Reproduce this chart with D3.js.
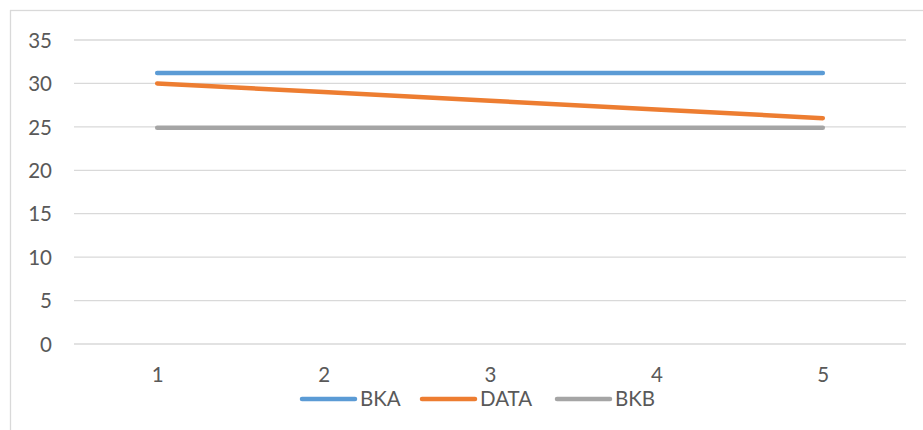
<!DOCTYPE html>
<html><head><meta charset="utf-8">
<script src="https://cdn.jsdelivr.net/npm/d3@7"></script>
<style>body{margin:0;background:#fff}svg{display:block}</style>
</head><body><svg id="c" width="923" height="430"></svg>
<script>
const categories = [1, 2, 3, 4, 5];
const seriesNames = ["BKA", "DATA", "BKB"];
const bka = [31.2, 31.2, 31.2, 31.2, 31.2];
const dataVals = [30, 29, 28, 27, 26];
const bkb = [24.9, 24.9, 24.9, 24.9, 24.9];
const yTicks = [0, 5, 10, 15, 20, 25, 30, 35];
const colors = ["#5B9BD5", "#ED7D31", "#A5A5A5"];

const series = [bka, dataVals, bkb];
const svg = d3.select("#c");
const font = "Lato, 'Open Sans', sans-serif";
const fs = 20.5;

svg.append("rect").attr("x", 10.5).attr("y", 10.5).attr("width", 940).attr("height", 440)
  .attr("fill", "none").attr("stroke", "#d9d9d9").attr("stroke-width", 1.3);

const x = d3.scalePoint().domain(categories).range([74, 906]).padding(0.5);
const y = d3.scaleLinear().domain([0, 35]).range([344, 40]);

const grid = svg.append("g");
grid.selectAll("line").data(yTicks).join("line")
  .attr("x1", 74).attr("x2", 906)
  .attr("y1", d => y(d)).attr("y2", d => y(d))
  .attr("stroke", "#d9d9d9").attr("stroke-width", 1.3);

const yAxis = svg.append("g").attr("transform", "translate(52,0)")
  .call(d3.axisLeft(y).tickValues(yTicks).tickSize(0).tickPadding(0));
yAxis.select(".domain").remove();
yAxis.selectAll("text").attr("font-family", font).attr("font-size", fs).attr("fill", "#595959").attr("dy", "0.35em");

const xAxis = svg.append("g").attr("transform", "translate(0,344)")
  .call(d3.axisBottom(x).tickSize(0).tickPadding(31));
xAxis.select(".domain").remove();
xAxis.selectAll("text").attr("font-family", font).attr("font-size", fs).attr("fill", "#595959").attr("dy", "0.35em");

const line = d3.line().x((d, i) => x(categories[i])).y(d => y(d));
series.forEach((s, k) => {
  svg.append("path").datum(s).attr("d", line).attr("fill", "none")
    .attr("stroke", colors[k]).attr("stroke-width", 4.5)
    .attr("stroke-linecap", "round").attr("stroke-linejoin", "round");
});

const legX = [300, 420, 555];
const leg = svg.append("g");
seriesNames.forEach((n, k) => {
  leg.append("line").attr("x1", legX[k] + 2).attr("x2", legX[k] + 55)
    .attr("y1", 399).attr("y2", 399).attr("stroke", colors[k]).attr("stroke-width", 4.5)
    .attr("stroke-linecap", "round");
  leg.append("text").attr("x", legX[k] + 60).attr("y", 399).attr("dy", "0.35em")
    .attr("font-family", font).attr("font-size", fs).attr("fill", "#595959").text(n);
});
</script></body></html>
